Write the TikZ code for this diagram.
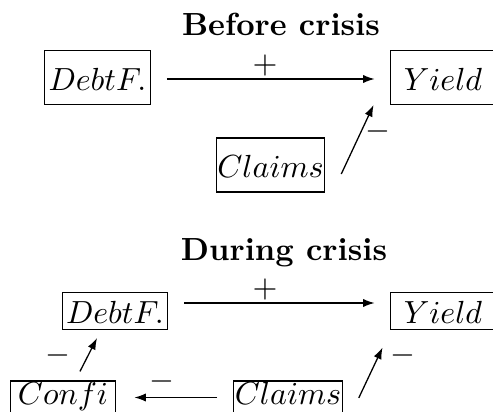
\documentclass[tikz,border=0pt]{standalone}
\usetikzlibrary{arrows.meta,calc}
\begin{document}
\begin{tikzpicture}[x=0.3125pt,y=-0.3125pt,
  every node/.style={inner sep=0pt},
  title/.style={font=\bfseries},
  bigbox/.style={draw, line width=0.4pt, inner xsep=0.3pt, inner ysep=0pt, minimum width=33pt, text height=12.4pt, text depth=4.4pt},
  smallbox/.style={draw, line width=0.4pt, inner xsep=0.3pt, inner ysep=0pt, minimum width=33pt, text height=9.6pt, text depth=1.9pt},
  lowbox/.style={draw, line width=0.4pt, inner xsep=0.3pt, inner ysep=0pt, minimum width=33pt, text height=7.3pt, text depth=7pt},
  conn/.style={-{Latex[length=3.6pt,width=2.6pt]}, line width=0.4pt},
  sign/.style={inner sep=0pt}
]
\useasboundingbox (0,0) rectangle (493,412);
% Before crisis
\node[title, anchor=base] (t1) at (281,35) {Before crisis};
\node[bigbox] (D1) at (97.5,77.5) {$DebtF.$};
\node[bigbox] (Y1) at (443,77.5) {$Yield$};
\node[bigbox] (C1) at (270.5,165) {$Claims$};
\draw[conn] ($(D1.east)+(16,1.5)$) -- ($(Y1.west)+(-15,1.5)$);
\node[sign] (p1) at (265,65) {$+$};
\draw[conn] ($(C1.east)+(16,9)$) -- ($(Y1.south west)+(-16,0)$);
\node[sign] (m1) at (378,131) {$-$};
% During crisis
\node[title, anchor=base] (t2) at (284,260) {During crisis};
\node[smallbox] (D2) at (115,311) {$DebtF.$};
\node[smallbox] (Y2) at (443,311) {$Yield$};
\node[lowbox] (F2) at (63,403.9) {$Confi$};
\node[lowbox] (C2) at (288,403.9) {$Claims$};
\draw[conn] ($(D2.east)+(16,-8)$) -- ($(Y2.west)+(-15,-8)$);
\node[sign] (p2) at (265,289) {$+$};
\draw[conn] ($(C2.east)+(16,-6)$) -- ($(Y2.south west)+(-7,17.5)$);
\node[sign] (m2) at (403,356) {$-$};
\draw[conn] ($(C2.west)+(-16,-6.4)$) -- ($(F2.east)+(18,-6.4)$);
\node[sign] (m3) at (162,382) {$-$};
\draw[conn] ($(F2.north)+(17,-9)$) -- ($(D2.south)+(-18,8)$);
\node[sign] (m4) at (58,355) {$-$};
\end{tikzpicture}
\end{document}
